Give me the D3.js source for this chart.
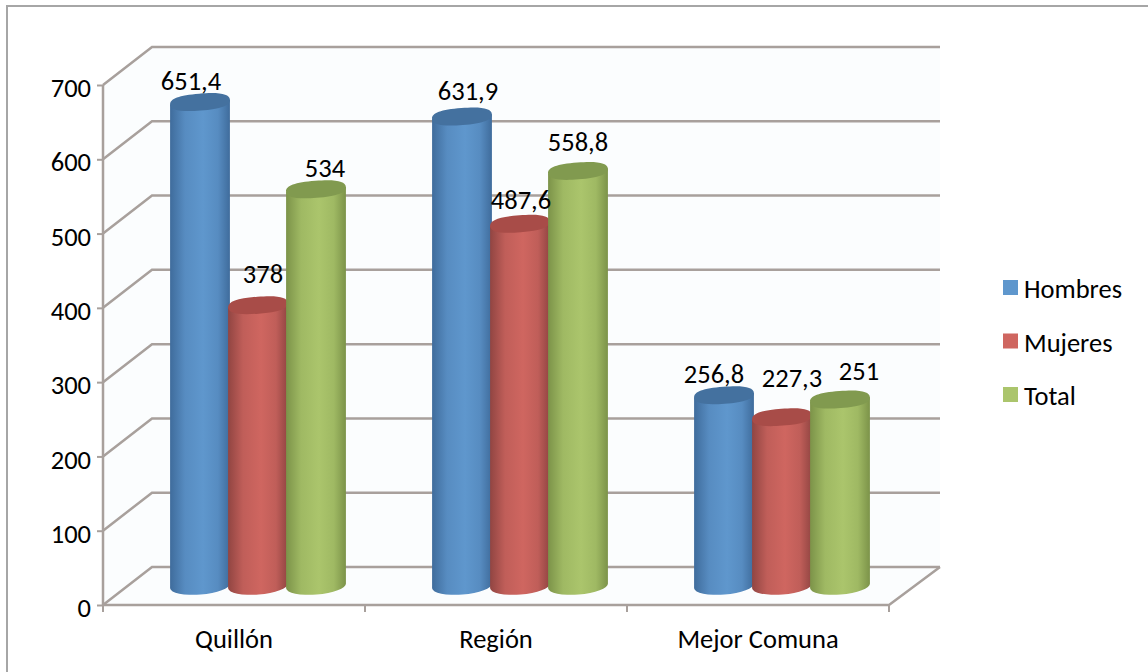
<!DOCTYPE html>
<html>
<head>
<meta charset="utf-8">
<script src="https://cdn.jsdelivr.net/npm/d3@7"></script>
<style>
  html, body { margin: 0; padding: 0; background: #fff; }
  text { font-family: Carlito, Lato, "Open Sans", sans-serif; fill: #000; }
</style>
</head>
<body>
<div id="chart"></div>
<script>
var categories = ["Quillón", "Región", "Mejor Comuna"];
var seriesNames = ["Hombres", "Mujeres", "Total"];
var hombres = [651.4, 631.9, 256.8];
var mujeres = [378, 487.6, 227.3];
var total = [534, 558.8, 251];
var valueLabels = [
  ["651,4", "631,9", "256,8"],
  ["378", "487,6", "227,3"],
  ["534", "558,8", "251"]
];
var yTicks = [0, 100, 200, 300, 400, 500, 600, 700];
var seriesValues = [hombres, mujeres, total];

var width = 1148, height = 672;
var depthX = 49, depthY = -38;
var fontSize = 26.5;
var gridColor = "#a8a09c";

// labels were dragged by hand in the original chart
var labelNudgeX = [[-9, 6, -10], [5, 1, 10], [9, 0, 19]];
var labelNudgeY = [[-12, -17, -12], [-22, -15, -30], [-12, -20, -20]];

var svg = d3.select("#chart").append("svg")
  .attr("width", width)
  .attr("height", height)
  .style("display", "block");

var defs = svg.append("defs");
var shades = [
  { main: "#5f97cd", dark: "#3f6c9c", top: "#44719f" },
  { main: "#cf6660", dark: "#914542", top: "#a84c48" },
  { main: "#abc56c", dark: "#7c9349", top: "#819a4f" }
];
shades.forEach(function (s, i) {
  var g = defs.append("linearGradient").attr("id", "cyl" + i);
  g.append("stop").attr("offset", "0%").attr("stop-color", s.dark);
  g.append("stop").attr("offset", "25%").attr("stop-color", d3.interpolateRgb(s.dark, s.main)(0.75));
  g.append("stop").attr("offset", "55%").attr("stop-color", s.main);
  g.append("stop").attr("offset", "80%").attr("stop-color", d3.interpolateRgb(s.dark, s.main)(0.75));
  g.append("stop").attr("offset", "100%").attr("stop-color", s.dark);
});

// outer frame: only left and top show in the screenshot
svg.append("path")
  .attr("d", "M7,672V6H1148")
  .attr("fill", "none")
  .attr("stroke", "#a6a6a6")
  .attr("stroke-width", 2);

var x = d3.scaleBand().domain(categories).range([103, 889]);
var y = d3.scaleLinear().domain([0, 700]).range([605, 85]);
var inner = d3.scaleBand().domain(seriesNames).range([-87, 87]);

// very faint tint behind the plot
svg.append("path")
  .attr("d", "M103," + y(0) + "V" + y(700) + "L" + (103 + depthX) + "," + (y(700) + depthY)
    + "H940V" + (y(0) + depthY) + "L" + x.range()[1] + "," + y(0) + "Z")
  .attr("fill", "#fbfdfe");

// gridlines: side wall + back wall
var grid = svg.append("g").attr("fill", "none").attr("stroke", gridColor).attr("stroke-width", 2.5);
grid.selectAll("path").data(yTicks).enter().append("path")
  .attr("d", function (d) {
    var y0 = y(d);
    return "M" + x.range()[0] + "," + y0 + "L" + (x.range()[0] + depthX) + "," + (y0 + depthY) + "H940";
  });
// floor front edge and right edge
grid.append("path")
  .attr("d", "M103," + y(0) + "H" + x.range()[1] + "L940," + (y(0) + depthY));
grid.append("path").attr("d", "M103," + y(0) + "V" + y(700));

var axisY = d3.axisLeft(y).tickValues(yTicks).tickSize(6).tickPadding(6).tickSizeOuter(0);
var gy = svg.append("g").attr("transform", "translate(103,0)").call(axisY);
gy.select(".domain").remove();
gy.selectAll("line").attr("stroke", gridColor).attr("stroke-width", 2);
gy.selectAll("text").attr("font-size", fontSize).attr("dy", "0.44em").style("font-family", null);

var gx = svg.append("g").attr("transform", "translate(0," + y(0) + ")")
  .call(d3.axisBottom(x).tickSize(0).tickPadding(24));
gx.select(".domain").remove();
gx.selectAll("text").attr("font-size", fontSize).style("font-family", null);
gx.selectAll(".sep").data(d3.range(0, 4)).enter().append("line")
  .attr("x1", function (d) { return 103 + d * x.step(); })
  .attr("x2", function (d) { return 103 + d * x.step(); })
  .attr("y1", 0).attr("y2", 7)
  .attr("stroke", gridColor).attr("stroke-width", 2);

// cylinders
var rx = 30, ry = 8.5, tilt = -4.5;
var midX = 24, midY = depthY / 2;
var sinT = Math.sin(tilt * Math.PI / 180), cosT = Math.cos(tilt * Math.PI / 180);
var k = 0.68; // a bit squarer than a true ellipse

function capPath() {
  return "M" + (-rx) + ",0"
    + "C" + (-rx) + "," + (-ry * k) + " " + (-rx * k) + "," + (-ry) + " 0," + (-ry)
    + "C" + (rx * k) + "," + (-ry) + " " + rx + "," + (-ry * k) + " " + rx + ",0"
    + "C" + rx + "," + (ry * k) + " " + (rx * k) + "," + ry + " 0," + ry
    + "C" + (-rx * k) + "," + ry + " " + (-rx) + "," + (ry * k) + " " + (-rx) + ",0Z";
}

function centerX(cat, name) {
  return x(cat) + x.bandwidth() / 2 + inner(name) + inner.bandwidth() / 2 + midX;
}

categories.forEach(function (cat, c) {
  seriesNames.forEach(function (name, s) {
    var v = seriesValues[s][c];
    var cx = centerX(cat, name);
    var yTop = y(v) + midY, yBase = y(0) + midY;
    var dx = rx * cosT, dy = rx * sinT;
    var g = svg.append("g");
    g.append("path")
      .attr("d", "M" + (cx - dx) + "," + (yTop - dy)
        + "L" + (cx - dx) + "," + (yBase - dy)
        + "A" + rx + "," + ry + " " + tilt + " 0 0 " + (cx + dx) + "," + (yBase + dy)
        + "L" + (cx + dx) + "," + (yTop + dy) + "Z")
      .attr("fill", "url(#cyl" + s + ")");
    g.append("path")
      .attr("d", capPath())
      .attr("transform", "translate(" + cx + "," + yTop + ")rotate(" + tilt + ")")
      .attr("fill", shades[s].top);
  });
});

// value labels on top of everything
categories.forEach(function (cat, c) {
  seriesNames.forEach(function (name, s) {
    var v = seriesValues[s][c];
    svg.append("text")
      .attr("x", centerX(cat, name) + labelNudgeX[s][c])
      .attr("y", y(v) + midY + labelNudgeY[s][c])
      .attr("text-anchor", "middle")
      .attr("font-size", fontSize)
      .text(valueLabels[s][c]);
  });
});

// legend
var legendY = d3.scalePoint().domain(seriesNames).range([289, 396]);
var legend = svg.append("g").selectAll("g").data(seriesNames).enter().append("g")
  .attr("transform", function (d) { return "translate(1003," + legendY(d) + ")"; });
legend.append("rect")
  .attr("x", 0).attr("y", -9).attr("width", 15).attr("height", 15)
  .attr("fill", function (d, i) { return shades[i].main; });
legend.append("text")
  .attr("x", 21).attr("y", 9)
  .attr("font-size", fontSize)
  .text(function (d) { return d; });
</script>
</body>
</html>
